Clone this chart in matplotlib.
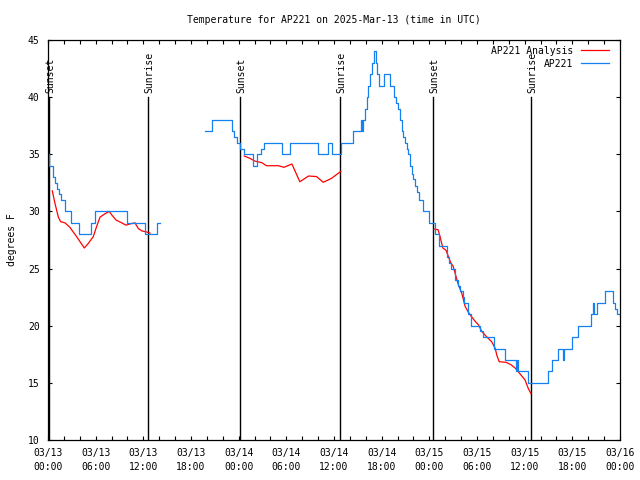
import matplotlib
matplotlib.use('Agg')
import matplotlib.pyplot as plt

# hours since 2025-03-13 00:00 UTC
blue_hours_1 = [0, 0.17, 0.67, 0.92, 1.17, 1.43, 1.68, 2.18, 2.94, 3.94, 5.37, 5.96, 9.9, 12.2, 13.7, 14.1]
blue_temp_1 = [35, 34, 33, 32.5, 32, 31.5, 31, 30, 29, 28, 29, 30, 29, 28, 29, 29]

blue_hours_2 = [19.76, 20.6, 23.2, 23.45, 23.75, 24.17, 24.7, 25.85, 26.27, 26.8, 27.2, 29.4, 30.4,
                34.0, 35.2, 35.7, 36.85, 38.4, 39.36, 39.5, 39.7, 39.87, 40.1, 40.3, 40.5, 40.75,
                41.0, 41.3, 41.4, 41.7, 42.3, 43.1, 43.5, 43.8, 44.1, 44.3, 44.5, 44.7, 44.9, 45.15,
                45.35, 45.6, 45.8, 46.0, 46.2, 46.5, 46.7, 47.25, 47.9, 48.7, 49.2, 50.2, 50.5, 50.7,
                51.2, 51.65, 51.86, 52.3, 52.4, 52.9, 53.25, 54.4, 54.7, 56.1, 57.5, 58.9, 59.0, 59.2,
                60.46, 62.98, 63.5, 64.2, 64.8, 65.0, 65.9, 66.7, 68.3, 68.6, 68.7, 69.07, 70.1,
                71.06, 71.35, 71.66, 72.0]
blue_temp_2 = [37, 38, 37, 36.5, 36, 35.5, 35, 34, 35, 35.5, 36, 35, 36,
               35, 36, 35, 36, 37, 38, 37, 38, 39, 40, 41, 42, 43,
               44, 43, 42, 41, 42, 41, 40, 39.5, 39, 38, 37, 36.5, 36, 35.5,
               35, 34, 33.3, 32.8, 32.2, 31.7, 31, 30, 29, 28, 27, 26, 25.5, 25,
               24, 23.5, 23, 22.5, 22, 21, 20, 19.5, 19, 18, 17, 16, 17, 16,
               15, 16, 17, 18, 17, 18, 19, 20, 21, 22, 21, 22, 23,
               22, 21.5, 21, 21]

red_hours_1 = [0.54, 0.88, 1.3, 1.6, 2.14, 2.77, 3.18, 3.6, 4.03, 4.57, 5.07, 5.7, 6.13, 6.55,
               7.18, 7.72, 8.02, 8.56, 9.28, 9.82, 10.3, 10.95, 11.37, 11.8, 12.42, 12.84]
red_temp_1 = [31.8, 30.7, 29.5, 29.1, 29.0, 28.6, 28.2, 27.8, 27.35, 26.8, 27.2, 27.8, 28.7, 29.5,
              29.8, 30.0, 29.7, 29.25, 29.0, 28.8, 28.9, 29.0, 28.5, 28.3, 28.2, 28.1]

red_hours_2 = [24.7, 25.4, 26.06, 26.9, 27.5, 29.0, 29.7, 30.7, 31.7, 32.8, 33.8, 34.65, 35.7, 36.85]
red_temp_2 = [34.85, 34.65, 34.4, 34.27, 34.0, 34.0, 33.86, 34.15, 32.6, 33.1, 33.05, 32.55, 32.9, 33.5]

red_hours_3 = [48.6, 49.1, 49.35, 49.7, 50.1, 50.4, 50.7, 51.0, 51.36, 51.65, 52.1, 52.5, 52.9, 53.3,
               53.75, 54.2, 54.6, 55.2, 55.85, 56.3, 56.5, 56.8, 57.65, 58.25, 58.8, 59.4, 60.05,
               60.46, 60.8]
red_temp_3 = [28.46, 28.4, 27.8, 26.8, 26.6, 26.05, 25.5, 25.2, 24.3, 23.6, 22.8, 21.7, 21.2, 20.8,
              20.4, 20.06, 19.5, 19.04, 18.6, 18.0, 17.4, 16.85, 16.8, 16.6, 16.3, 15.8, 15.25,
              14.5, 14.05]

sunset_hours = [0.13, 24.17, 48.46]
sunrise_hours = [12.59, 36.76, 60.8]

tick_hours = list(range(0, 73, 6))
tick_labels = ['03/13\n00:00', '03/13\n06:00', '03/13\n12:00', '03/13\n18:00',
               '03/14\n00:00', '03/14\n06:00', '03/14\n12:00', '03/14\n18:00',
               '03/15\n00:00', '03/15\n06:00', '03/15\n12:00', '03/15\n18:00',
               '03/16\n00:00']
y_ticks = [10, 15, 20, 25, 30, 35, 40, 45]

RED = '#ff0000'
BLUE = '#1580f0'
FONT = 'DejaVu Sans Mono'
FS = 7

plt.rcParams['font.family'] = FONT
fig = plt.figure(figsize=(6.4, 4.8), dpi=100)
ax = fig.add_axes([48 / 640, 40 / 480, 572 / 640, 400 / 480])

for h in sunset_hours:
    ax.plot([h, h], [10, 40], color='black', lw=1.0)
    ax.text(h + 0.15, 40.4, 'Sunset', rotation=90, ha='center', va='bottom', fontsize=FS)
for h in sunrise_hours:
    ax.plot([h, h], [10, 40], color='black', lw=1.0)
    ax.text(h + 0.15, 40.4, 'Sunrise', rotation=90, ha='center', va='bottom', fontsize=FS)

ax.plot(red_hours_1, red_temp_1, color=RED, lw=0.9, label='AP221 Analysis')
ax.plot(red_hours_2, red_temp_2, color=RED, lw=0.9)
ax.plot(red_hours_3, red_temp_3, color=RED, lw=0.9)
ax.plot(blue_hours_1, blue_temp_1, color=BLUE, lw=0.9, drawstyle='steps-post', label='AP221')
ax.plot(blue_hours_2, blue_temp_2, color=BLUE, lw=0.9, drawstyle='steps-post')

ax.set_xlim(0, 72)
ax.set_ylim(10, 45)
ax.set_xticks(tick_hours)
ax.set_xticklabels(tick_labels, fontsize=FS, linespacing=1.45)
ax.set_xticks(range(0, 73, 2), minor=True)
ax.set_yticks(y_ticks)
ax.set_yticklabels([str(v) for v in y_ticks], fontsize=FS)
ax.tick_params(which='both', direction='in', top=True, right=True, length=3, width=0.8)
ax.tick_params(axis='x', pad=6)
ax.tick_params(axis='y', pad=6)
for s in ax.spines.values():
    s.set_linewidth(0.9)

ax.set_ylabel('degrees F', fontsize=FS, labelpad=8)
fig.text(334 / 640, 1 - 20 / 480, 'Temperature for AP221 on 2025-Mar-13 (time in UTC)',
         ha='center', va='center', fontsize=FS)

ax.legend(loc='upper right', bbox_to_anchor=(0.981, 0.986), frameon=False, markerfirst=False,
          fontsize=FS, handlelength=2.9, handletextpad=0.8, labelspacing=0.3,
          borderpad=0, borderaxespad=0)

fig.savefig('out.png', dpi=100)
